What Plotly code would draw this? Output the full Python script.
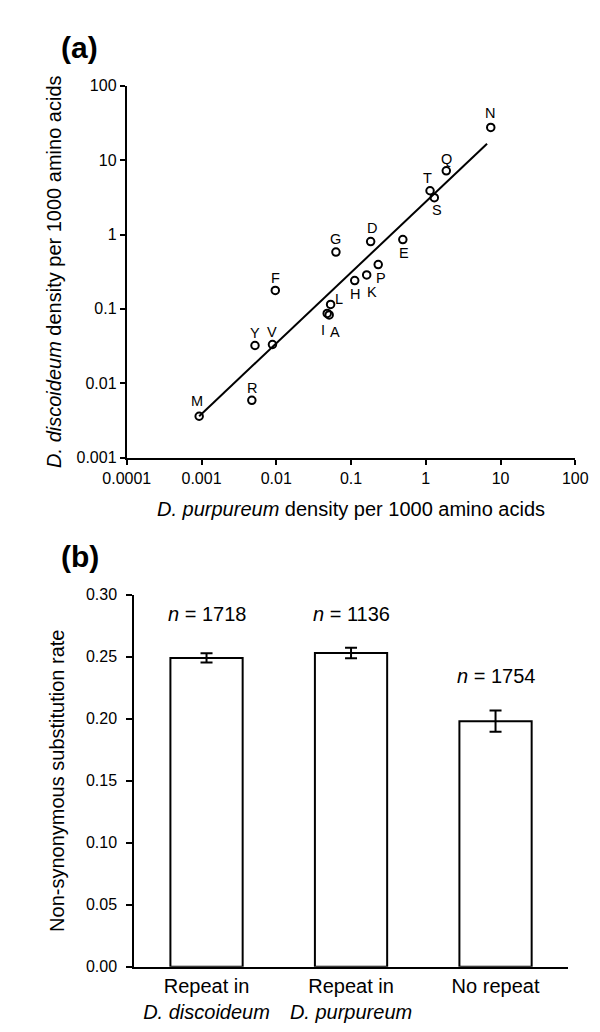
import numpy as np
import plotly.graph_objects as go

# ---------------- Panel (a) data ----------------
amino_acids = ["N", "Q", "T", "S", "D", "E", "G", "P", "K", "H",
               "L", "I", "A", "F", "Y", "V", "R", "M"]
purpureum_density = [7.4, 1.88, 1.14, 1.30, 0.183, 0.493, 0.0628, 0.231, 0.162, 0.112,
                     0.0533, 0.048, 0.051, 0.0097, 0.00519, 0.00889, 0.00471, 0.00093]
discoideum_density = [27.6, 7.2, 3.88, 3.13, 0.805, 0.855, 0.582, 0.395, 0.286, 0.240,
                      0.115, 0.087, 0.083, 0.177, 0.0322, 0.0332, 0.0059, 0.0036]
fit_x = [0.00093, 6.6]
fit_y = [0.0036, 16.6]
xa_tickvals = [0.0001, 0.001, 0.01, 0.1, 1, 10, 100]
xa_ticktext = ["0.0001", "0.001", "0.01", "0.1", "1", "10", "100"]
ya_tickvals = [0.001, 0.01, 0.1, 1, 10, 100]
ya_ticktext = ["0.001", "0.01", "0.1", "1", "10", "100"]

# ---------------- Panel (b) data ----------------
categories = ["Repeat in<br><i>D. discoideum</i>",
              "Repeat in<br><i>D. purpureum</i>",
              "No repeat"]
rates = [0.249, 0.253, 0.198]
rate_errors = [0.0037, 0.0042, 0.0086]
n_genes = [1718, 1136, 1754]
n_label_y = [0.284, 0.284, 0.234]
yb_tickvals = [0.00, 0.05, 0.10, 0.15, 0.20, 0.25, 0.30]

# ---------------- style ----------------
FONT = "Liberation Sans, Arial, Helvetica, sans-serif"
W, H = 600, 1032
# label offsets (px): (xshift, yshift)
label_offsets = {
    "N": (-1, 14), "Q": (0, 12), "T": (-3, 13), "S": (3, -12), "D": (1, 14),
    "E": (1, -13), "G": (0, 13), "P": (3, -13), "K": (5, -17), "H": (0, -13),
    "L": (8, 5), "I": (-4, -17), "A": (6, -17), "F": (0, 12), "Y": (0, 12),
    "V": (0, 13), "R": (0, 12), "M": (-2, 15),
}

fig = go.Figure()

fig.add_trace(go.Scatter(
    x=fit_x, y=fit_y, mode="lines",
    line=dict(color="black", width=2),
    xaxis="x", yaxis="y", showlegend=False, hoverinfo="skip"))

fig.add_trace(go.Scatter(
    x=purpureum_density, y=discoideum_density, mode="markers",
    marker=dict(symbol="circle-open", size=7.5, color="black",
                line=dict(color="black", width=2)),
    text=amino_acids, xaxis="x", yaxis="y", showlegend=False))

fig.add_trace(go.Bar(
    x=categories, y=rates, width=0.5,
    marker=dict(color="white", line=dict(color="black", width=2)),
    error_y=dict(type="data", array=rate_errors, color="black",
                 thickness=2, width=6),
    xaxis="x2", yaxis="y2", showlegend=False))

annotations = []
for aa, xv, yv in zip(amino_acids, purpureum_density, discoideum_density):
    dx, dy = label_offsets[aa]
    annotations.append(dict(
        x=np.log10(xv), y=np.log10(yv), xref="x", yref="y", text=aa,
        showarrow=False, xshift=dx, yshift=dy,
        xanchor="center", yanchor="middle",
        font=dict(family=FONT, size=14.5, color="black")))

for cat, n, ny in zip(categories, n_genes, n_label_y):
    annotations.append(dict(
        x=cat, y=ny, xref="x2", yref="y2", text=f"<i>n</i> = {n}",
        showarrow=False, xanchor="center", yanchor="middle",
        font=dict(family=FONT, size=20, color="black")))

annotations.append(dict(x=51 / W, y=1 - 32 / H, xref="paper", yref="paper",
                        text="<b>(a)</b>", showarrow=False,
                        xanchor="center", yanchor="middle",
                        font=dict(family=FONT, size=30, color="black")))
annotations.append(dict(x=51 / W, y=1 - 550 / H, xref="paper", yref="paper",
                        text="<b>(b)</b>", showarrow=False,
                        xanchor="center", yanchor="middle",
                        font=dict(family=FONT, size=30, color="black")))

axis_common = dict(showline=True, linewidth=2, linecolor="black",
                   showgrid=False, zeroline=False, mirror=False,
                   tickcolor="black", tickfont=dict(family=FONT, size=16, color="black"))

fig.update_layout(
    width=W, height=H,
    margin=dict(l=0, r=0, t=0, b=0),
    paper_bgcolor="white", plot_bgcolor="white",
    font=dict(family=FONT, color="black"),
    xaxis=dict(domain=[101 / W, 579 / W], anchor="y", type="log", range=[-4, 2],
               tickvals=xa_tickvals, ticktext=xa_ticktext,
               ticks="outside", ticklen=5, tickwidth=2,
               title=dict(text="<i>D. purpureum</i> density per 1000 amino acids",
                          font=dict(family=FONT, size=20, color="black"), standoff=16),
               **axis_common),
    yaxis=dict(domain=[1 - 449 / H, 1 - 71 / H], anchor="x", type="log", range=[-3, 2],
               tickvals=ya_tickvals, ticktext=ya_ticktext,
               ticks="outside", ticklen=5, tickwidth=2,
               title=dict(text="<i>D. discoideum</i> density per 1000 amino acids",
                          font=dict(family=FONT, size=20, color="black"), standoff=10),
               **axis_common),
    xaxis2=dict(domain=[109 / W, 571 / W], anchor="y2", type="category",
                range=[-0.5, 2.5], ticks="",
                showline=True, linewidth=2, linecolor="black",
                showgrid=False, zeroline=False,
                tickfont=dict(family=FONT, size=20, color="black")),
    yaxis2=dict(domain=[1 - 966.7 / H, 1 - 588.3 / H], anchor="x2", range=[0, 0.30],
                tickvals=yb_tickvals, tickformat=".2f",
                ticks="outside", ticklen=6, tickwidth=2, ticklabelstandoff=6,
                title=dict(text="Non-synonymous substitution rate",
                           font=dict(family=FONT, size=20, color="black"), standoff=16),
                **axis_common),
    annotations=annotations,
)

fig.write_html("out.html")
